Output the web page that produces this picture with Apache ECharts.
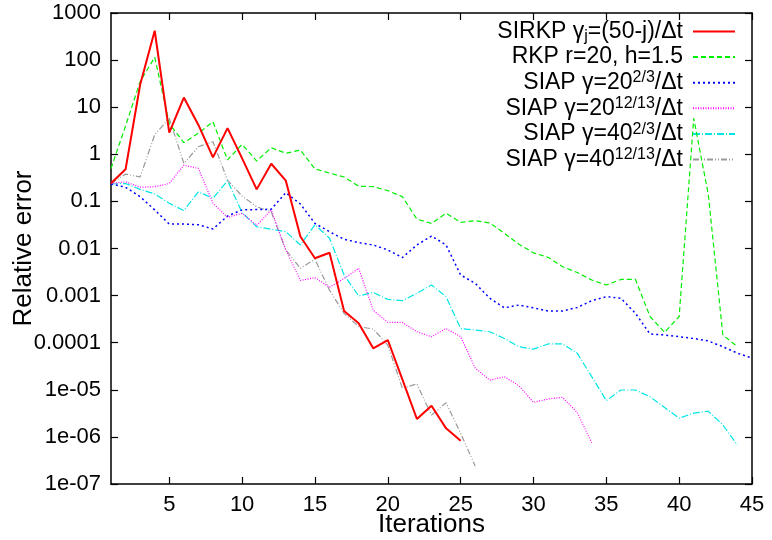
<!DOCTYPE html>
<html>
<head>
<meta charset="utf-8">
<script src="https://cdn.jsdelivr.net/npm/echarts@6/dist/echarts.min.js"></script>
<style>
html, body { margin: 0; padding: 0; background: #fff; }
#container { width: 772px; height: 540px; }
</style>
</head>
<body>
<div id="container"></div>
<script>
var iterations = [1, 2, 3, 4, 5, 6, 7, 8, 9, 10, 11, 12, 13, 14, 15, 16, 17, 18, 19, 20, 21, 22, 23,
    24, 25, 26, 27, 28, 29, 30, 31, 32, 33, 34, 35, 36, 37, 38, 39, 40, 41, 42, 43, 44, 45];

var sirkp = [0.242, 0.48, 30, 420, 2.9, 16, 4.2, 0.86, 3.6, 0.82, 0.18, 0.63, 0.275, 0.018, 0.0062,
    0.0081, 4.7e-4, 2.6e-4, 7.6e-5, 1.14e-4, 1.67e-5, 2.4e-6, 4.6e-6, 1.52e-6, 8.3e-7];
var rkp = [0.5, 4, 35, 115, 4.5, 1.77, 2.8, 4.9, 0.76, 1.63, 0.72, 1.38, 1.05, 1.23, 0.49, 0.40, 0.33,
    0.21, 0.206, 0.169, 0.126, 0.042, 0.034, 0.056, 0.036, 0.039, 0.035, 0.021, 0.0123, 0.0081, 0.0065,
    0.0041, 0.0031, 0.00214, 0.00168, 0.0022, 0.0022, 3.6e-4, 1.66e-4, 3.6e-4, 5.8, 0.14, 1.46e-4, 8.2e-5];
var siap20a = [0.234, 0.2, 0.126, 0.066, 0.033, 0.033, 0.032, 0.026, 0.049, 0.066, 0.067, 0.068, 0.153,
    0.088, 0.034, 0.0227, 0.0157, 0.0133, 0.0119, 0.0093, 0.0064, 0.0119, 0.0184, 0.0119, 0.00274, 0.00182,
    8.8e-4, 5.5e-4, 6.3e-4, 5.5e-4, 4.7e-4, 4.7e-4, 5.6e-4, 7.8e-4, 9.5e-4, 8.8e-4, 4.2e-4, 1.53e-4,
    1.46e-4, 1.34e-4, 1.23e-4, 1.09e-4, 8.2e-5, 6.0e-5, 4.7e-5];
var siap20b = [0.24, 0.26, 0.2, 0.205, 0.24, 0.59, 0.5, 0.091, 0.046, 0.056, 0.031, 0.066, 0.0093, 0.0021,
    0.0024, 0.0015, 0.0023, 0.0038, 4.9e-4, 2.7e-4, 2.7e-4, 1.71e-4, 1.34e-4, 2.0e-4, 1.34e-4, 2.9e-5,
    1.6e-5, 1.9e-5, 1.22e-5, 5.4e-6, 6.4e-6, 6.9e-6, 3.3e-6, 7.5e-7];
var siap40a = [0.234, 0.24, 0.18, 0.144, 0.091, 0.064, 0.16, 0.116, 0.275, 0.058, 0.029, 0.0256, 0.0227,
    0.0119, 0.032, 0.0165, 0.00274, 9.8e-4, 0.00117, 8.3e-4, 7.8e-4, 0.00112, 0.00168, 9.5e-4, 2.0e-4,
    1.86e-4, 1.71e-4, 1.23e-4, 8.2e-5, 7.3e-5, 9.4e-5, 9.4e-5, 6.0e-5, 1.9e-5, 5.9e-6, 9.9e-6, 9.9e-6,
    7.1e-6, 4.2e-6, 2.5e-6, 3.2e-6, 3.5e-6, 1.8e-6, 6.7e-7];
var siap40b = [0.24, 0.38, 0.33, 2.6, 5.8, 0.64, 1.45, 1.85, 0.28, 0.13, 0.077, 0.06, 0.0093, 0.0038,
    0.0059, 0.0013, 4.2e-4, 2.2e-4, 1.95e-4, 8.9e-5, 1.08e-5, 1.33e-5, 2.9e-6, 5.3e-6, 1.19e-6, 2.4e-7];

var seriesNames = ['SIRKP γj=(50-j)/Δt', 'RKP r=20, h=1.5', 'SIAP γ=20^(2/3)/Δt',
    'SIAP γ=20^(12/13)/Δt', 'SIAP γ=40^(2/3)/Δt', 'SIAP γ=40^(12/13)/Δt'];
var legendLabels = [
    '{m|SIRKP γ}{sub|j}{m|=(50-j)/Δt}',
    '{m|RKP r=20, h=1.5}',
    '{m|SIAP γ=20}{sup|2/3}{m|/Δt}',
    '{m|SIAP γ=20}{sup|12/13}{m|/Δt}',
    '{m|SIAP γ=40}{sup|2/3}{m|/Δt}',
    '{m|SIAP γ=40}{sup|12/13}{m|/Δt}'
];

var xTicks = [5, 10, 15, 20, 25, 30, 35, 40, 45];
var yTickLabels = ['1e-07', '1e-06', '1e-05', '0.0001', '0.001', '0.01', '0.1', '1', '10', '100', '1000'];

var font = 'Liberation Sans, Arial, Helvetica, sans-serif';

var dom = document.getElementById('container');
var myChart = echarts.init(dom);

var toPairs = function (vals) {
    var out = [];
    for (var i = 0; i < vals.length; i++) {
        out.push([iterations[i], vals[i]]);
    }
    return out;
};

var styles = [
    { color: '#ff0000', width: 2, type: 'solid' },
    { color: '#00ee00', width: 1.2, type: [5, 3] },
    { color: '#0000ff', width: 1.5, type: [2, 3] },
    { color: '#ff00ff', width: 1.2, type: [1, 1.5] },
    { color: '#00e5e5', width: 1.2, type: [7, 2, 1, 2] },
    { color: '#999999', width: 1.2, type: [6, 2, 1, 2, 1, 2] }
];
var allData = [sirkp, rkp, siap20a, siap20b, siap40a, siap40b];

var series = [];
for (var s = 0; s < allData.length; s++) {
    series.push({
        name: seriesNames[s],
        type: 'line',
        data: toPairs(allData[s]),
        symbol: 'none',
        color: styles[s].color,
        lineStyle: { color: styles[s].color, width: styles[s].width, type: styles[s].type },
        animation: false,
        z: 10 - s
    });
}

var mirrorTicks = { show: true, inside: true, length: 7, lineStyle: { color: '#000', width: 1.2 } };

var option = {
    backgroundColor: '#fff',
    animation: false,
    grid: { left: 111, right: 20, top: 13, bottom: 56, containLabel: false, outerBoundsMode: 'none' },
    legend: {
        data: seriesNames,
        orient: 'vertical',
        right: 31,
        top: 15,
        align: 'right',
        itemWidth: 42,
        itemHeight: 4,
        itemGap: 1.4,
        selectedMode: false,
        itemStyle: { opacity: 0 },
        formatter: function (name) {
            return legendLabels[seriesNames.indexOf(name)];
        },
        textStyle: {
            color: '#000',
            padding: [0, 5, 0, 0],
            rich: {
                m: { fontFamily: font, fontSize: 23, lineHeight: 25.4, color: '#000' },
                sup: { fontFamily: font, fontSize: 16, lineHeight: 4, verticalAlign: 'top', color: '#000' },
                sub: { fontFamily: font, fontSize: 16, lineHeight: 14, verticalAlign: 'bottom', color: '#000' }
            }
        }
    },
    xAxis: [{
        type: 'value',
        min: 1,
        max: 45,
        name: 'Iterations',
        nameLocation: 'middle',
        nameGap: 28,
        nameMoveOverlap: false,
        nameTextStyle: { fontFamily: font, fontSize: 26, color: '#000' },
        splitLine: { show: false },
        axisLine: { show: true, onZero: false, lineStyle: { color: '#000', width: 1.5 } },
        axisTick: { show: true, inside: true, length: 7, customValues: xTicks, lineStyle: { color: '#000', width: 1.2 } },
        axisLabel: { fontFamily: font, fontSize: 22, color: '#000', margin: 10, customValues: xTicks }
    }, {
        type: 'value',
        position: 'top',
        min: 1,
        max: 45,
        splitLine: { show: false },
        axisLine: { show: true, onZero: false, lineStyle: { color: '#000', width: 1.5 } },
        axisTick: Object.assign({ customValues: xTicks }, mirrorTicks),
        axisLabel: { show: false, customValues: xTicks }
    }],
    yAxis: [{
        type: 'log',
        logBase: 10,
        min: 1e-7,
        max: 1000,
        interval: 1,
        name: 'Relative error',
        nameLocation: 'middle',
        nameGap: 74,
        nameMoveOverlap: false,
        nameTextStyle: { fontFamily: font, fontSize: 26, color: '#000' },
        splitLine: { show: false },
        axisLine: { show: true, onZero: false, lineStyle: { color: '#000', width: 1.5 } },
        axisTick: { show: true, inside: true, length: 7, lineStyle: { color: '#000', width: 1.2 } },
        axisLabel: {
            fontFamily: font, fontSize: 22, color: '#000', margin: 10,
            formatter: function (v) {
                return yTickLabels[Math.round(Math.log10(v)) + 7];
            }
        }
    }, {
        type: 'log',
        logBase: 10,
        position: 'right',
        min: 1e-7,
        max: 1000,
        interval: 1,
        splitLine: { show: false },
        axisLine: { show: true, onZero: false, lineStyle: { color: '#000', width: 1.5 } },
        axisTick: mirrorTicks,
        axisLabel: { show: false }
    }],
    series: series
};

if (option && typeof option === 'object') {
    myChart.setOption(option, false);
}
</script>
</body>
</html>
